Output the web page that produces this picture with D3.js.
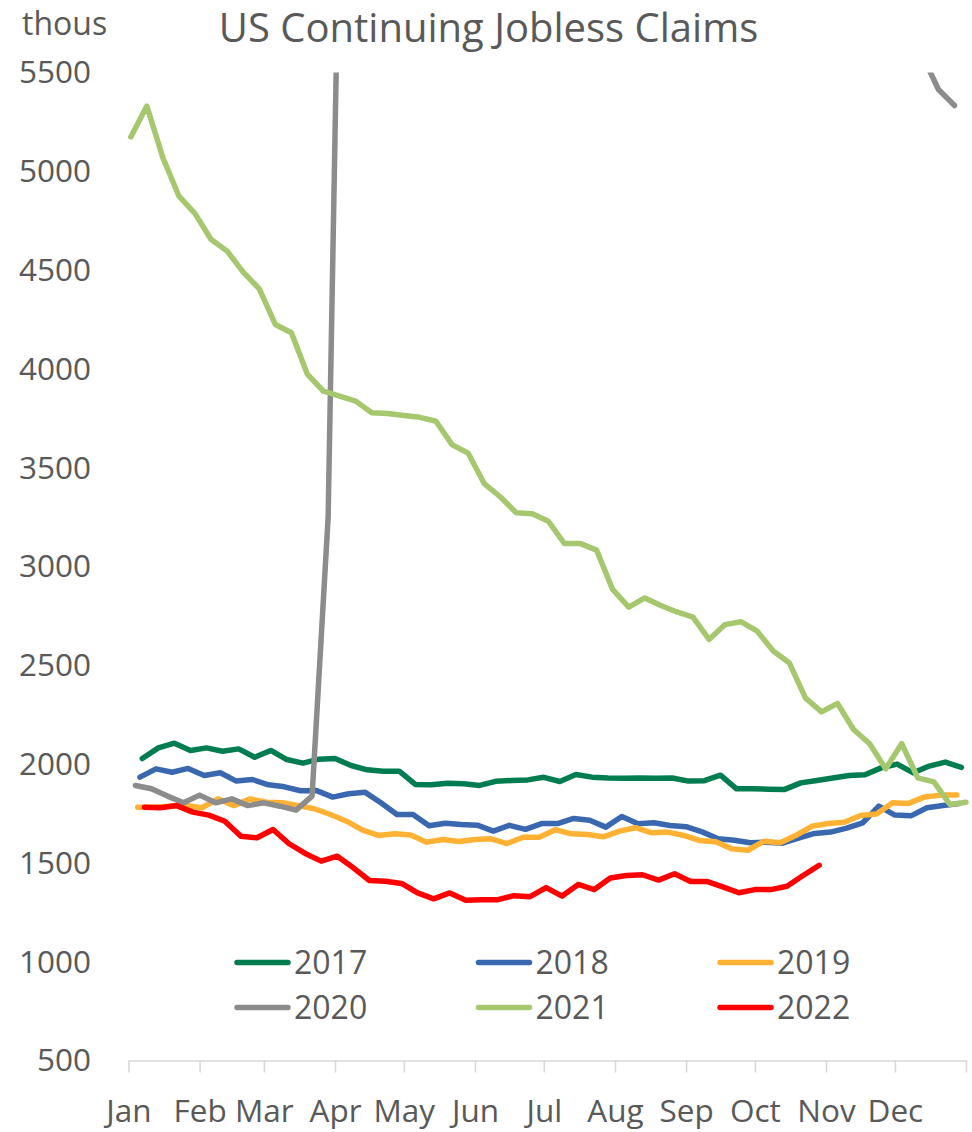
<!DOCTYPE html>
<html>
<head>
<meta charset="utf-8">
<script src="https://cdn.jsdelivr.net/npm/d3@7"></script>
<style>
  body { margin: 0; background: #fff; }
  svg text { font-family: 'Open Sans', 'Noto Sans', sans-serif; fill: #595959; }
</style>
</head>
<body>
<div id="chart"></div>
<script>
/* DATA */
const months = ['Jan', 'Feb', 'Mar', 'Apr', 'May', 'Jun', 'Jul', 'Aug', 'Sep', 'Oct', 'Nov', 'Dec'];
const yTicks = [500, 1000, 1500, 2000, 2500, 3000, 3500, 4000, 4500, 5000, 5500];
const seriesNames = ['2017', '2018', '2019', '2020', '2021', '2022'];
// week ending (Saturday) of the first observation in each year
const firstWeek = ['2017-01-07', '2018-01-06', '2019-01-05', '2020-01-04', '2021-01-02', '2022-01-08'];
const colors = ['#007D50', '#3A68B0', '#FFB133', '#8C8C8C', '#A5C86F', '#FF0000'];

// continuing claims, thousands, weekly
const claims2017 = [2028, 2082, 2106, 2069, 2082, 2065, 2077, 2035, 2069, 2023, 2005, 2025, 2028, 1993, 1971, 1964, 1964, 1897, 1895, 1903,
  1901, 1892, 1913, 1917, 1920, 1933, 1912, 1947, 1934, 1930, 1929, 1930, 1929, 1930, 1914, 1916, 1944, 1875, 1875, 1873,
  1872, 1905, 1917, 1930, 1942, 1946, 1981, 2000, 1956, 1990, 2010, 1983];
const claims2018 = [1934, 1976, 1959, 1978, 1942, 1956, 1914, 1922, 1895, 1885, 1865, 1866, 1833, 1850, 1858, 1804, 1745, 1745, 1688, 1701,
  1694, 1691, 1661, 1690, 1670, 1699, 1699, 1725, 1716, 1681, 1735, 1698, 1703, 1689, 1683, 1657, 1622, 1615, 1602, 1605,
  1600, 1625, 1649, 1656, 1676, 1703, 1787, 1742, 1738, 1779, 1790, 1800];
const claims2019 = [1782, 1782, 1787, 1790, 1779, 1824, 1790, 1824, 1807, 1804, 1790, 1774, 1745, 1711, 1666, 1639, 1647, 1641, 1605, 1618,
  1608, 1618, 1622, 1598, 1630, 1630, 1668, 1647, 1644, 1632, 1661, 1678, 1652, 1656, 1639, 1613, 1607, 1571, 1564, 1610,
  1602, 1640, 1686, 1699, 1706, 1740, 1748, 1804, 1801, 1834, 1843, 1843];
const claims2020 = [1892, 1875, 1838, 1804, 1843, 1804, 1824, 1790, 1804, 1787, 1767, 1838, 3248, 7750, 12400, 16200, 18300, 22400, 22600, 24900,
  21100, 20800, 20700, 19300, 17600, 18100, 17100, 16900, 16200, 16100, 16000, 14900, 14500, 13400, 13500, 13300, 12600, 11900, 11100, 10500,
  9400, 8300, 7800, 7400, 6900, 6400, 6100, 5800, 5800, 5586, 5414, 5333];
const claims2021 = [5174, 5330, 5068, 4874, 4786, 4655, 4596, 4490, 4405, 4225, 4183, 3972, 3887, 3862, 3837, 3778, 3774, 3764, 3755, 3735,
  3617, 3574, 3420, 3353, 3272, 3267, 3229, 3116, 3116, 3083, 2884, 2794, 2841, 2803, 2770, 2744, 2631, 2706, 2720, 2673,
  2572, 2512, 2335, 2264, 2307, 2175, 2103, 1976, 2104, 1930, 1910, 1796, 1807];
const claims2022 = [1782, 1779, 1790, 1757, 1742, 1711, 1635, 1627, 1669, 1597, 1548, 1509, 1534, 1475, 1411, 1407, 1396, 1348, 1318, 1348,
  1311, 1314, 1314, 1334, 1329, 1375, 1332, 1391, 1365, 1424, 1436, 1440, 1413, 1445, 1406, 1406, 1379, 1349, 1365, 1365,
  1382, 1436, 1488];

const allClaims = [claims2017, claims2018, claims2019, claims2020, claims2021, claims2022];

/* LAYOUT */
const W = 972, H = 1132;
const margin = { top: 72.5, right: 6, bottom: 71.5, left: 128.5 };

const svg = d3.select('#chart')
  .append('svg')
  .attr('width', W)
  .attr('height', H);

const base = new Date(2017, 0, 1);
const x = d3.scaleTime()
  .domain([base, new Date(2018, 0, 1)])
  .range([margin.left, W - margin.right]);

const y = d3.scaleLinear()
  .domain([500, 5500])
  .range([H - margin.bottom, margin.top]);

// map each weekly date onto the same calendar year
const parse = d3.timeParse('%Y-%m-%d');
const series = seriesNames.map((name, s) => {
  const start = parse(firstWeek[s]);
  const jan1 = d3.timeYear(start);
  const points = allClaims[s].map((v, i) => {
    const date = d3.timeDay.offset(start, 7 * i);
    const doy = d3.timeDay.count(jan1, date);
    return { date: d3.timeDay.offset(base, doy), value: v };
  });
  return { name, color: colors[s], points };
});

// lines are cut at the top of the value axis
svg.append('defs').append('clipPath')
  .attr('id', 'plot-clip')
  .append('rect')
  .attr('x', 0)
  .attr('y', margin.top)
  .attr('width', W)
  .attr('height', H - margin.bottom - margin.top + 10);

// Title
svg.append('text')
  .attr('x', 488.5)
  .attr('y', 42)
  .attr('text-anchor', 'middle')
  .style('font-size', '40px')
  .text('US Continuing Jobless Claims');

svg.append('text')
  .attr('x', 22)
  .attr('y', 35)
  .style('font-size', '32px')
  .text('thous');

// Y axis (labels only)
const yAxis = svg.append('g')
  .attr('transform', `translate(91,0)`)
  .call(d3.axisLeft(y).tickValues(yTicks).tickSize(0).tickPadding(0).tickFormat(d3.format('d')));
yAxis.select('.domain').remove();
yAxis.selectAll('text')
  .style('font-size', '31.5px')
  .attr('dy', '0.33em');

// X axis
const xAxis = svg.append('g')
  .attr('transform', `translate(0,${H - margin.bottom})`)
  .call(d3.axisBottom(x)
    .tickValues(d3.timeMonth.range(base, new Date(2018, 0, 2)))
    .tickSize(12)
    .tickSizeOuter(0)
    .tickPadding(27)
    .tickFormat(d => d.getFullYear() > 2017 ? '' : months[d.getMonth()]));
xAxis.select('.domain').attr('stroke', '#d9d9d9').attr('stroke-width', 1.6);
xAxis.selectAll('.tick line').attr('stroke', '#d9d9d9').attr('stroke-width', 1.6);
xAxis.selectAll('text').style('font-size', '31.5px');

// Lines
const line = d3.line()
  .x(d => x(d.date))
  .y(d => y(d.value));

svg.append('g')
  .attr('clip-path', 'url(#plot-clip)')
  .selectAll('path')
  .data(series)
  .enter()
  .append('path')
  .attr('d', d => line(d.points))
  .attr('fill', 'none')
  .attr('stroke', d => d.color)
  .attr('stroke-width', 5.5)
  .attr('stroke-linejoin', 'round')
  .attr('stroke-linecap', 'round');

// Legend
const legend = svg.selectAll('.legend')
  .data(series)
  .enter()
  .append('g')
  .attr('class', 'legend')
  .attr('transform', (d, i) => `translate(${237 + (i % 3) * 241.5}, ${962.5 + Math.floor(i / 3) * 45})`);

legend.append('line')
  .attr('x1', 0)
  .attr('x2', 51)
  .attr('stroke', d => d.color)
  .attr('stroke-width', 5.5)
  .attr('stroke-linecap', 'round');

legend.append('text')
  .attr('x', 57)
  .attr('y', 11.5)
  .style('font-size', '32px')
  .text(d => d.name);
</script>
</body>
</html>
